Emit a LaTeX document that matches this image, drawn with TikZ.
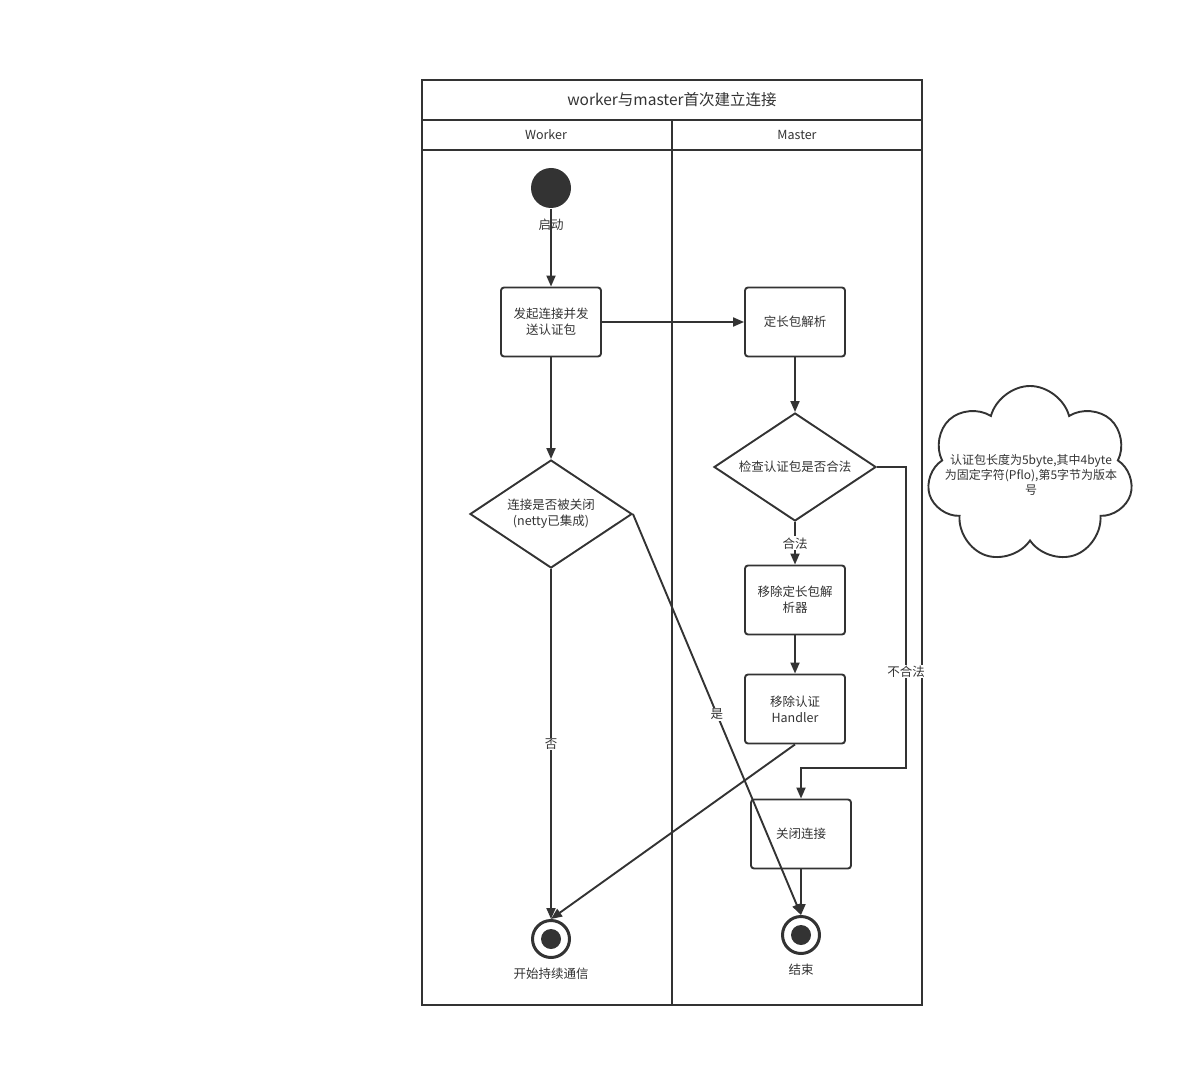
\documentclass[tikz,border=0pt]{standalone}
\usepackage{fontspec}
\setmainfont{Noto Sans CJK SC}
\usetikzlibrary{shapes.geometric,shapes.symbols,arrows.meta}
\definecolor{ink}{HTML}{333333}

\begin{document}
\begin{tikzpicture}[x=1pt,y=-1pt,line width=1.9pt,color=ink,
    font=\fontsize{12.5}{16}\selectfont,
    >={Triangle[length=11pt,width=9pt]},
    endstate/.style={circle, draw, line width=3pt, minimum size=37, inner sep=0pt}]

      \useasboundingbox (0,0) rectangle (1198,1067);

      % swimlanes
      \draw (422,80) rectangle (922,1005);
      \draw (422,120) -- (922,120);
      \draw (422,150) -- (922,150);
      \draw (672,120) -- (672,1005);
      \node[font=\fontsize{15.5}{18}\selectfont] (t)  at (672,100) {worker与master首次建立连接};
      \node (w) at (546,135) {Worker};
      \node (m) at (797,135) {Master};

      \begin{scope}[every node/.style={draw, rounded corners=3pt, minimum width=100, minimum height=69, align=center}]
        \node (2)  at (551,322) {发起连接并发\\送认证包};
        \node (3)  at (795,322) {定长包解析};
        \node (6)  at (795,600) {移除定长包解\\析器};
        \node (7)  at (795,709) {移除认证\\Handler};
        \node (8)  at (801,834) {关闭连接};
      \end{scope}

      \begin{scope}[every node/.style={diamond, draw, aspect=1.5, inner sep=0pt, minimum width=162, minimum height=108, align=center}]
        \node (4)  at (795,467) {检查认证包是否合法};
        \node (5)  at (551,514) {连接是否被关闭\\(netty已集成)};
      \end{scope}

      \node[circle, fill=ink, minimum size=40, inner sep=0pt,
            label={[label distance=6pt]below:启动}] (1) at (551,188) {};

      \node[endstate] (9)  at (551,939) {};
      \node[endstate] (10) at (801,935) {};
      \fill (9.center) circle (10);
      \fill (10.center) circle (10);
      \node (9a)  at (551,974) {开始持续通信};
      \node (10a) at (801,970) {结束};

      \node[cloud, draw, cloud puffs=7, cloud ignores aspect, minimum width=206, minimum height=178] (11) at (1030,475) {};
      \node[align=center, font=\fontsize{12}{15}\selectfont] (12) at (1031,475) {认证包长度为5byte,其中4byte\\为固定字符(Pflo),第5字节为版本\\号};

      \coordinate (c1) at (906,768);

      \begin{scope}[every node/.style={fill=white, inner sep=1pt}]

        \begin{scope}[every edge/.style={draw, ->}]
          \path (1)  edge (2);
          \path (2)  edge (3);
          \path (2)  edge (5);
          \path (3)  edge (4);
          \path (4)  edge node {合法} (6);
          \path (6)  edge (7);
          \path (5)  edge node {否} (9);
          \path (5.east)  edge node[pos=.5] {是} (10.north);
          \path (7.south) edge (9.north);
          \path (8)  edge (10);
        \end{scope}
        \draw[->] (4.east) -| node[pos=.84] {不合法} (c1) -| (8);
      \end{scope}

    \end{tikzpicture}
\end{document}
